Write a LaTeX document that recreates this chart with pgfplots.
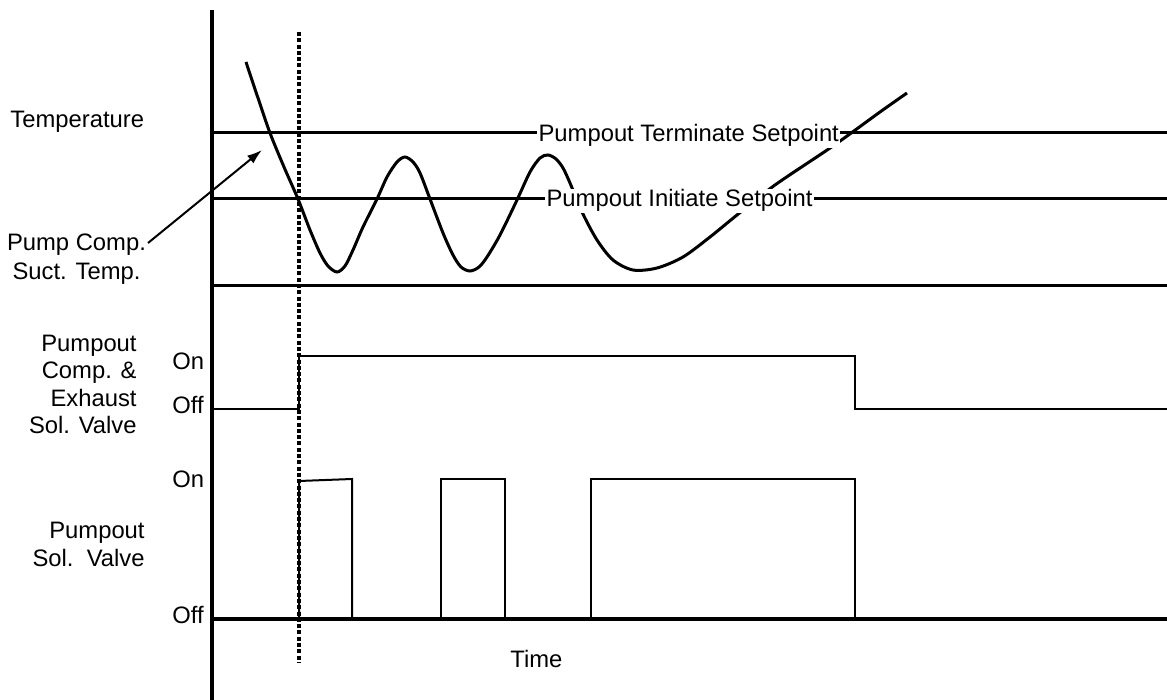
\documentclass[border=0pt]{standalone}
\usepackage{pgfplots}
\pgfplotsset{compat=1.18}
\usepackage{fontspec}
\setmainfont{Liberation Sans}
\usetikzlibrary{arrows.meta}

% one pixel of the reference = 0.5pt
\pgfplotsset{
  thickline/.style={black, line width=1.5pt},
  sig/.style={black, line width=1pt, line join=miter},
}
\tikzset{
  lbl/.style={font=\fontsize{11.9}{14.2}\selectfont, inner sep=0pt},
  setlbl/.style={font=\fontsize{11.9}{14.2}\selectfont, fill=white, inner sep=0.6pt},
}

\begin{document}
\begin{tikzpicture}
\begin{axis}[
  width=583.5pt, height=350pt, scale only axis,
  xmin=0, xmax=1167, ymin=0, ymax=700,
  y dir=reverse,
  hide axis, clip=false,
]
% vertical axis
\addplot[black, line width=2pt] coordinates {(212,10) (212,700)};
% setpoint lines and separators
\addplot[thickline] coordinates {(212,133) (1167,133)};
\addplot[thickline] coordinates {(212,199) (1167,199)};
\addplot[thickline] coordinates {(212,286) (1167,286)};
\addplot[black, line width=2pt] coordinates {(212,619) (1167,619)};

% pumpout comp. & exhaust sol. valve
\addplot[sig] coordinates {(212,409) (299,409) (299,356) (855,356) (855,409) (1167,409)};
% pumpout sol. valve
\addplot[sig] coordinates {(299,619) (299,481) (352,479) (352,619)};
\addplot[sig] coordinates {(441,619) (441,479) (505,479) (505,619)};
\addplot[sig] coordinates {(591,619) (591,479) (855,479) (855,619)};

% dotted marker line
\addplot[black, line width=2pt, dash pattern=on 2pt off 1.15pt] coordinates {(299,32) (299,663)};

% pump comp. suction temperature
\addplot[black, line width=1.5pt, smooth] coordinates {
  (246,62) (258,98) (270,133) (284,167) (298,199) (310,230) (320,253)
  (328,266) (337,272) (345,266) (353,250) (363,227) (377,199) (387,177)
  (397,162) (405,157) (413,162) (420,173) (430,199) (443,233) (453,255)
  (461,267) (470,271) (479,267) (487,257) (500,235) (517,200) (530,172)
  (540,158) (548,155) (556,159) (563,168) (570,183) (582,212) (597,240)
  (613,260) (633,270) (657,268) (683,257) (710,237) (737,215) (775,185)
  (833,146) (880,112) (907,93)
};
% arrow to the curve
\addplot[black, line width=1pt, -{Latex[length=7.5pt,width=5pt]}] coordinates {(148,243) (262,150)};

% setpoint labels
\node[setlbl, anchor=base west] at (axis cs:537,142) {Pumpout Terminate Setpoint};
\node[setlbl, anchor=base west] at (axis cs:545,207) {Pumpout Initiate Setpoint};

% left labels
\node[lbl, anchor=base west] at (axis cs:10,128) {Temperature};
\node[lbl, anchor=base] at (axis cs:76.5,251) {Pump Comp.};
\node[lbl, anchor=base] at (axis cs:76.5,279) {Suct. Temp.};

\node[lbl, anchor=base east] at (axis cs:137,351) {Pumpout};
\node[lbl, anchor=base east] at (axis cs:137,378) {Comp. \&};
\node[lbl, anchor=base east] at (axis cs:137,406) {Exhaust};
\node[lbl, anchor=base east] at (axis cs:137,433) {Sol. Valve};

\node[lbl, anchor=base east] at (axis cs:145,538) {Pumpout};
\node[lbl, anchor=base east] at (axis cs:145,566) {Sol.\ \ Valve};

\node[lbl, anchor=base west] at (axis cs:172,369) {On};
\node[lbl, anchor=base west] at (axis cs:172,413) {Off};
\node[lbl, anchor=base west] at (axis cs:172,487) {On};
\node[lbl, anchor=base west] at (axis cs:172,623) {Off};

\node[lbl, anchor=base west] at (axis cs:510,667) {Time};
\end{axis}
\pgfresetboundingbox
\path (current axis.south west) rectangle (current axis.north east);
\end{tikzpicture}
\end{document}
